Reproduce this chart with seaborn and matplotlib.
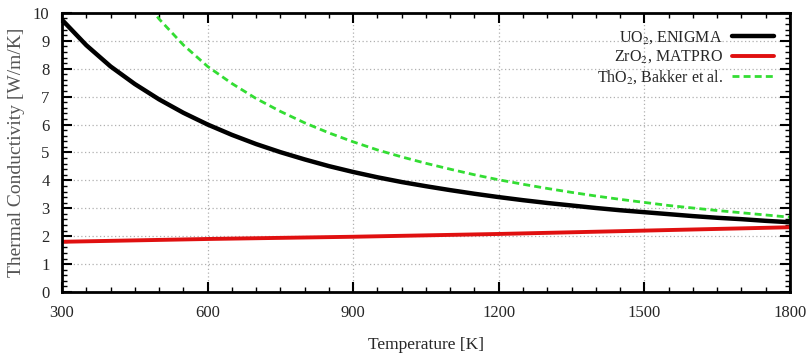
import numpy as np
import pandas as pd
import matplotlib
matplotlib.use("Agg")
import matplotlib.pyplot as plt
import seaborn as sns
from matplotlib.ticker import MultipleLocator

# Data (every 50 K)
temp_uo2 = [300, 350, 400, 450, 500, 550, 600, 650, 700, 750, 800, 850, 900, 950, 1000,
            1050, 1100, 1150, 1200, 1250, 1300, 1350, 1400, 1450, 1500, 1550, 1600,
            1650, 1700, 1750, 1800]
k_uo2 = [9.75, 8.84, 8.08, 7.45, 6.90, 6.42, 6.00, 5.63, 5.30, 5.01, 4.75, 4.51, 4.30, 4.11, 3.94,
         3.79, 3.65, 3.52, 3.40, 3.29, 3.19, 3.10, 3.01, 2.93, 2.86, 2.79, 2.72,
         2.66, 2.61, 2.55, 2.50]

temp_zro2 = [300, 600, 900, 1200, 1500, 1800]
k_zro2 = [1.80, 1.90, 1.98, 2.08, 2.20, 2.32]

temp_tho2 = [400, 450, 500, 550, 600, 650, 700, 750, 800, 850, 900, 950, 1000,
             1050, 1100, 1150, 1200, 1250, 1300, 1350, 1400, 1450, 1500, 1550, 1600,
             1650, 1700, 1750, 1800]
k_tho2 = [12.30, 10.90, 9.78, 8.85, 8.08, 7.47, 6.93, 6.47, 6.06, 5.70, 5.38, 5.09, 4.84,
          4.61, 4.40, 4.20, 4.02, 3.86, 3.71, 3.57, 3.44, 3.32, 3.21, 3.10, 3.01,
          2.92, 2.84, 2.76, 2.68]

labels = ["UO$_2$, ENIGMA", "ZrO$_2$, MATPRO", "ThO$_2$, Bakker et al."]
x_ticks = [300, 600, 900, 1200, 1500, 1800]
y_ticks = list(range(0, 11))

sns.set_theme(style="white")
plt.rcParams['font.family'] = ['Liberation Serif', 'DejaVu Serif']
plt.rcParams['mathtext.fontset'] = 'stix'

df_uo2 = pd.DataFrame({"T": temp_uo2, "k": k_uo2})
df_zro2 = pd.DataFrame({"T": temp_zro2, "k": k_zro2})
df_tho2 = pd.DataFrame({"T": temp_tho2, "k": k_tho2})

fig = plt.figure(figsize=(8.06, 3.57), dpi=100)
ax = fig.add_axes([0.077, 0.182, 0.903, 0.782])

sns.lineplot(data=df_uo2, x="T", y="k", ax=ax, color="black", lw=3.2, label=labels[0])
sns.lineplot(data=df_zro2, x="T", y="k", ax=ax, color="#e01010", lw=2.8, label=labels[1])
sns.lineplot(data=df_tho2, x="T", y="k", ax=ax, color="#33dd33", lw=2.0, ls=(0, (2.5, 1.5)), label=labels[2])

ax.set_xlim(300, 1800)
ax.set_ylim(0, 10)
ax.set_xticks(x_ticks)
ax.set_yticks(y_ticks)
ax.xaxis.set_minor_locator(MultipleLocator(50))
ax.yaxis.set_minor_locator(MultipleLocator(0.2))
ax.tick_params(which="both", direction="in", top=True, right=True, bottom=True, left=True,
               color="black")
ax.tick_params(which="major", length=7, width=1.5, labelsize=12, pad=9)
ax.tick_params(which="minor", length=3.5, width=1.0)
for s in ax.spines.values():
    s.set_color("black")
    s.set_linewidth(2.0)

ax.grid(True, which="major", color="#b0b0b0", ls=(0, (1, 2)), lw=0.9)
ax.set_axisbelow(True)

ax.set_xlabel("Temperature [K]", fontsize=12.5, labelpad=12)
ax.set_ylabel("Thermal Conductivity [W/m/K]", fontsize=14, color="#555555", labelpad=6)

leg = ax.legend(loc="upper right", frameon=False, markerfirst=False, fontsize=11.5,
                handlelength=2.6, handletextpad=0.6, labelspacing=0.2,
                borderaxespad=0.6)

fig.savefig("out.png", dpi=100)
